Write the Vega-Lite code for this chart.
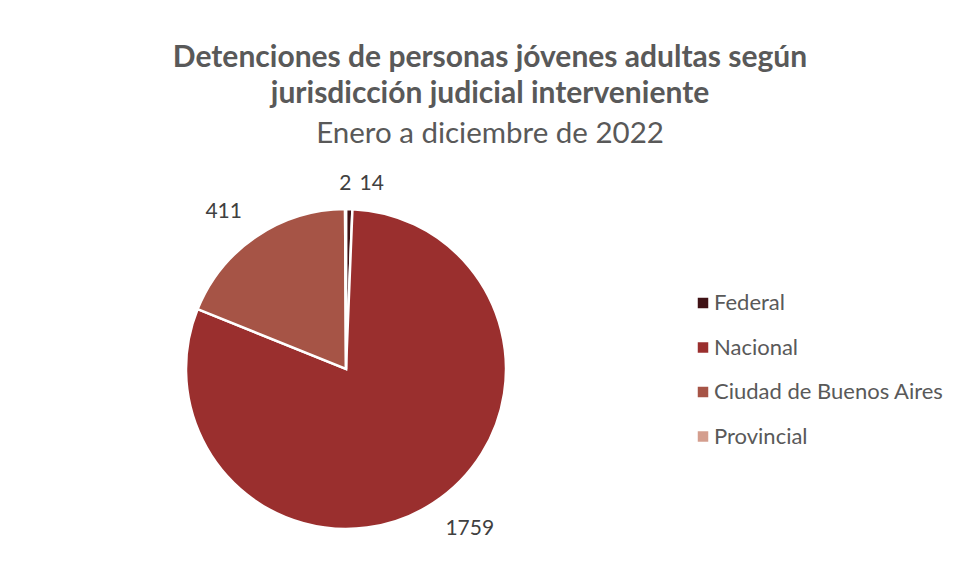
{
  "$schema": "https://vega.github.io/schema/vega-lite/v6.json",
  "width": 692,
  "height": 380,
  "padding": {"left": 0, "top": 42, "right": 0, "bottom": 0},
  "background": "white",
  "config": {"view": {"stroke": null}, "font": "Lato"},
  "title": {
    "text": ["Detenciones de personas jóvenes adultas según", "jurisdicción judicial interveniente"],
    "subtitle": "Enero a diciembre de 2022",
    "anchor": "middle",
    "frame": "group",
    "dx": 144,
    "font": "Lato",
    "fontSize": 30,
    "fontWeight": "bold",
    "lineHeight": 36,
    "color": "#595959",
    "subtitleFont": "Lato",
    "subtitleFontSize": 29.5,
    "subtitleFontWeight": "normal",
    "subtitleColor": "#595959",
    "subtitleLineHeight": 36,
    "subtitlePadding": 11,
    "offset": 11
  },
  "data": {
    "values": [
      {"jurisdiccion": "Federal", "valor": 14, "orden": 1},
      {"jurisdiccion": "Nacional", "valor": 1759, "orden": 2},
      {"jurisdiccion": "Ciudad de Buenos Aires", "valor": 411, "orden": 3},
      {"jurisdiccion": "Provincial", "valor": 2, "orden": 4}
    ]
  },
  "encoding": {
    "theta": {"field": "valor", "type": "quantitative", "stack": true},
    "order": {"field": "orden", "type": "quantitative"}
  },
  "layer": [
    {
      "mark": {"type": "arc", "outerRadius": 160, "stroke": "white", "strokeWidth": 2.5},
      "encoding": {
        "color": {
          "field": "jurisdiccion",
          "type": "nominal",
          "scale": {
            "domain": ["Federal", "Nacional", "Ciudad de Buenos Aires", "Provincial"],
            "range": ["#401215", "#9A2F2E", "#A65446", "#D49E8E"]
          },
          "legend": {
            "title": null,
            "orient": "none",
            "legendX": 692,
            "legendY": 113,
            "symbolType": "square",
            "symbolSize": 110,
            "symbolStrokeWidth": 0,
            "labelFont": "Lato",
            "labelFontSize": 22,
            "labelColor": "#595959",
            "labelOffset": 0,
            "rowPadding": 22.5,
            "labelLimit": 400
          }
        }
      }
    },
    {
      "mark": {"type": "text", "radius": 195, "dx": 18, "dy": -4, "fontSize": 21, "font": "Lato", "color": "#404040"},
      "encoding": {
        "text": {"condition": {"test": "datum.jurisdiccion === 'Nacional'", "field": "valor", "type": "quantitative"}, "value": ""}
      }
    },
    {
      "mark": {"type": "text", "radius": 200, "dx": -10, "dy": 8, "fontSize": 21, "font": "Lato", "color": "#404040"},
      "encoding": {
        "text": {"condition": {"test": "datum.jurisdiccion === 'Ciudad de Buenos Aires'", "field": "valor", "type": "quantitative"}, "value": ""}
      }
    },
    {
      "mark": {"type": "text", "radius": 185, "fontSize": 21, "font": "Lato", "color": "#404040"},
      "encoding": {
        "text": {"condition": {"test": "datum.jurisdiccion === 'Provincial'", "field": "valor", "type": "quantitative"}, "value": ""}
      }
    },
    {
      "mark": {"type": "text", "radius": 185, "dx": 22, "fontSize": 21, "font": "Lato", "color": "#404040"},
      "encoding": {
        "text": {"condition": {"test": "datum.jurisdiccion === 'Federal'", "field": "valor", "type": "quantitative"}, "value": ""}
      }
    }
  ]
}
